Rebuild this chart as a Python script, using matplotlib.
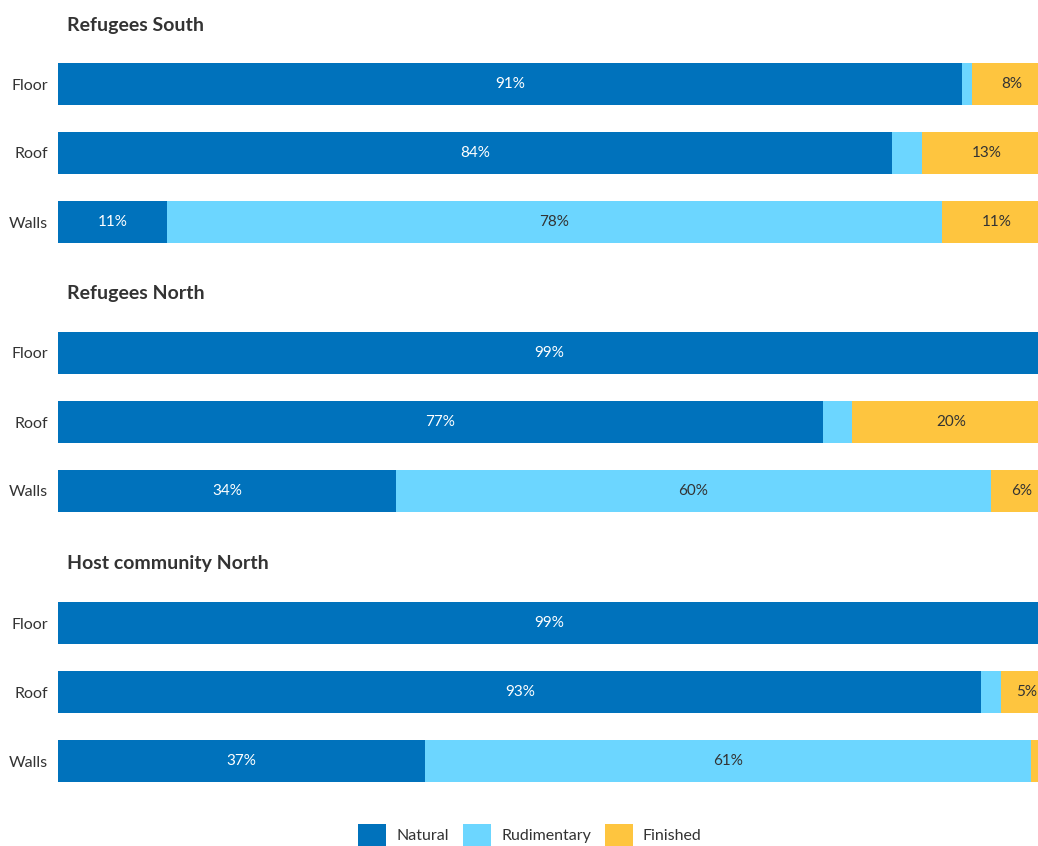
import matplotlib.pyplot as plt
from matplotlib.patches import Patch

plt.rcParams['font.family'] = ['Lato', 'DejaVu Sans']

groups = ['Refugees South', 'Refugees North', 'Host community North']
parts = ['Floor', 'Roof', 'Walls']
types = ['Natural', 'Rudimentary', 'Finished']
colors = ['#0072BC', '#6CD6FF', '#FEC53F']

# percentages per group: rows = Floor, Roof, Walls
natural = [[91, 84, 11], [99, 77, 34], [99, 93, 37]]
rudimentary = [[1, 3, 78], [1, 3, 60], [1, 2, 61]]
finished = [[8, 13, 11], [0, 20, 6], [0, 5, 2]]

W, H = 1038, 846
fig = plt.figure(figsize=(W / 100, H / 100), dpi=100)

ax_left = 58
ax_width = 993
row_gap = 69
bar_px = 42
first_centre = [84, 353, 623]
title_y = [25, 294, 563]
txt = '#333333'

for g, name in enumerate(groups):
    top = first_centre[g] - row_gap / 2
    ax = fig.add_axes([ax_left / W, 1 - (top + 3 * row_gap) / H,
                       ax_width / W, 3 * row_gap / H])
    series = [natural[g], rudimentary[g], finished[g]]
    left = [0, 0, 0]
    for s, vals in enumerate(series):
        ax.barh(range(3), vals, left=left, height=bar_px / row_gap,
                color=colors[s], linewidth=0)
        for i, v in enumerate(vals):
            if v >= 5:
                ax.text(left[i] + v / 2, i, f'{v}%', ha='center', va='center',
                        fontsize=11, color='white' if s == 0 else txt)
        left = [l + v for l, v in zip(left, vals)]
    ax.set_xlim(0, 100)
    ax.set_ylim(2.5, -0.5)
    ax.set_yticks(range(3))
    ax.set_yticklabels(parts, fontsize=11.5, color=txt)
    ax.tick_params(axis='y', length=0, pad=7)
    ax.set_xticks([])
    for sp in ax.spines.values():
        sp.set_visible(False)
    fig.text(67 / W, 1 - title_y[g] / H, name, fontsize=14, fontweight='bold',
             color=txt, ha='left', va='center')

handles = [Patch(facecolor=c, edgecolor='none', label=t) for c, t in zip(colors, types)]
fig.legend(handles=handles, loc='center', bbox_to_anchor=(530 / W, 1 - 835 / H),
           ncol=3, frameon=False, fontsize=11.5, labelcolor=txt,
           handlelength=1.75, handleheight=1.75, handletextpad=0.65,
           columnspacing=0.85, borderpad=0)

fig.savefig('out.png', dpi=100)
